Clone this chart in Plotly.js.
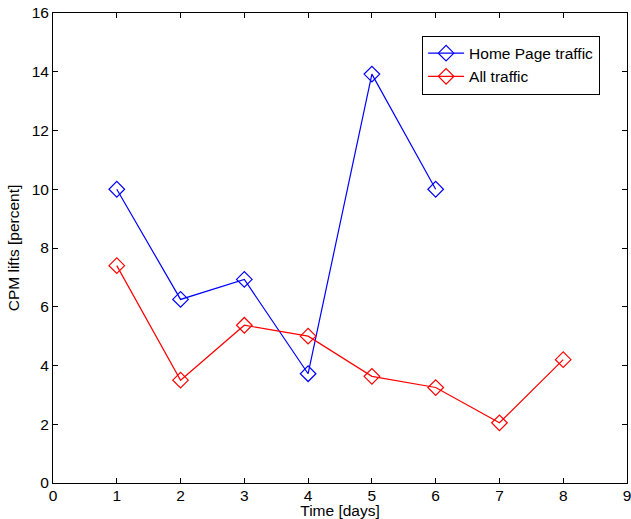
<!DOCTYPE html>
<html>
<head>
<meta charset="utf-8">
<script src="https://cdn.plot.ly/plotly-3.0.1.min.js"></script>
<style>html,body{margin:0;padding:0;background:#fff;}#chart{width:631px;height:519px;}</style>
</head>
<body>
<div id="chart"></div>
<script>
var days = [1, 2, 3, 4, 5, 6, 7, 8];
var homePageDays = [1, 2, 3, 4, 5, 6];
var homePageLift = [10.0, 6.25, 6.93, 3.72, 13.92, 10.0];
var allTrafficLift = [7.40, 3.50, 5.37, 5.00, 3.63, 3.25, 2.05, 4.20];
var xTicks = [0, 1, 2, 3, 4, 5, 6, 7, 8, 9];
var yTicks = [0, 2, 4, 6, 8, 10, 12, 14, 16];

var font = {family: '"Liberation Sans", Arial, Helvetica, sans-serif', size: 15.5, color: '#000'};

var traces = [
  {x: homePageDays, y: homePageLift, name: 'Home Page traffic', mode: 'lines+markers',
   line: {color: '#0000ff', width: 1.2},
   marker: {symbol: 'diamond-open', size: 12, color: '#0000ff', line: {width: 1.2}}},
  {x: days, y: allTrafficLift, name: 'All traffic', mode: 'lines+markers',
   line: {color: '#ff0000', width: 1.2},
   marker: {symbol: 'diamond-open', size: 12, color: '#ff0000', line: {width: 1.2}}}
];

var axisCommon = {
  showline: true, linecolor: '#000', linewidth: 1, mirror: 'ticks',
  ticks: 'inside', ticklen: 5, tickcolor: '#000', tickwidth: 1,
  showgrid: false, zeroline: false, tickfont: font, ticklabeloverflow: 'allow'
};

var layout = {
  width: 631, height: 519,
  margin: {l: 53, r: 4, t: 13, b: 36},
  paper_bgcolor: '#fff', plot_bgcolor: '#fff',
  font: font,
  showlegend: true,
  legend: {x: 0.643, y: 0.952, xanchor: 'left', yanchor: 'top',
           bordercolor: '#000', borderwidth: 1, bgcolor: '#fff',
           font: font, tracegroupgap: 0, itemwidth: 36},
  xaxis: Object.assign({}, axisCommon, {range: [0, 9], tickvals: xTicks, ticktext: xTicks.map(String),
    ticklabelstandoff: -2,
    title: {text: 'Time [days]', font: font, standoff: 8}}),
  yaxis: Object.assign({}, axisCommon, {range: [0, 16], tickvals: yTicks, ticktext: yTicks.map(String),
    ticklabelstandoff: 0,
    title: {text: 'CPM lifts [percent]', font: font, standoff: 8}})
};

Plotly.newPlot('chart', traces, layout, {displayModeBar: false, staticPlot: true});
</script>
</body>
</html>
